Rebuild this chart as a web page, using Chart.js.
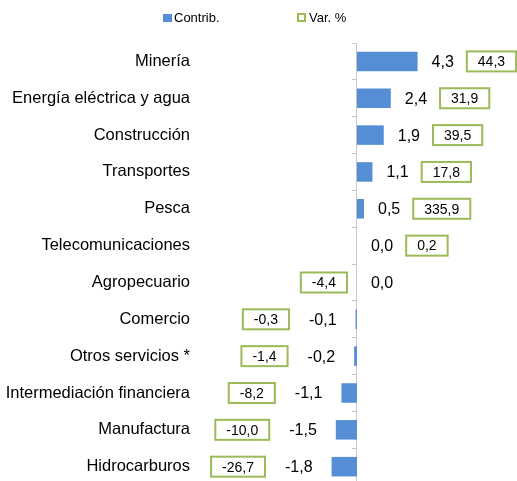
<!DOCTYPE html>
<html>
<head>
<meta charset="utf-8">
<script src="https://cdn.jsdelivr.net/npm/chart.js@4.4.0/dist/chart.umd.min.js"></script>
<style>
  body { margin: 0; background: #fff; overflow: hidden; font-family: "Liberation Sans", Arial, sans-serif; }
  #wrap { position: relative; width: 517px; height: 505px; }
  .legend { position: absolute; top: 10px; font-size: 13px; color: #000; line-height: 14px; }
  .legend span { display: inline-block; vertical-align: middle; }
  .sw-contrib { width: 9px; height: 8px; background: #558ED5; margin-right: 2px; }
  .sw-var { width: 5px; height: 5px; border: 2px solid #9BBB59; margin-right: 3px; }
</style>
</head>
<body>
<div id="wrap">
  <div class="legend" style="left:163px"><span class="sw-contrib"></span><span>Contrib.</span></div>
  <div class="legend" style="left:297px"><span class="sw-var"></span><span>Var. %</span></div>
  <canvas id="chart" width="517" height="505"></canvas>
</div>
<script>
// Data
const categories = [
    "Minería",
    "Energía eléctrica y agua",
    "Construcción",
    "Transportes",
    "Pesca",
    "Telecomunicaciones",
    "Agropecuario",
    "Comercio",
    "Otros servicios *",
    "Intermediación financiera",
    "Manufactura",
    "Hidrocarburos",
];
const contrib = [4.3, 2.4, 1.9, 1.1, 0.5, 0.0, 0.0, -0.1, -0.2, -1.1, -1.5, -1.8];
const varPct = [44.3, 31.9, 39.5, 17.8, 335.9, 0.2, -4.4, -0.3, -1.4, -8.2, -10.0, -26.7];

const FONT = '"Liberation Sans", Arial, sans-serif';
Chart.defaults.font.family = FONT;

function fmt(v) {
    return v.toFixed(1).replace(".", ",");
}

// Draws the contribution value next to each bar and the boxed % change
const valueLabels = {
    id: "valueLabels",
    afterDatasetsDraw(chart) {
        const ctx = chart.ctx;
        const zero = chart.scales.x.getPixelForValue(0);
        chart.getDatasetMeta(0).data.forEach((bar, i) => {
            const v = contrib[i];
            const p = varPct[i];
            const y = bar.y;
            ctx.save();
            ctx.textBaseline = "middle";
            ctx.fillStyle = "#000";

            ctx.font = "16px " + FONT;
            const txt = fmt(v);
            const tw = ctx.measureText(txt).width;
            let tl;
            if (v >= 0) tl = bar.x + 14;
            else tl = bar.x - 19 - tw;
            ctx.textAlign = "left";
            ctx.fillText(txt, tl, y + 1);

            ctx.font = "14px " + FONT;
            const ptxt = fmt(p);
            const bw = ctx.measureText(ptxt).width + 22;
            let bl;
            if (p >= 0) bl = v >= 0 ? tl + tw + 13 : zero + 10;
            else bl = v < 0 ? tl - 20 - bw : zero - 10 - bw;
            ctx.fillStyle = "#fff";
            ctx.fillRect(bl, y - 10, bw, 20);
            ctx.strokeStyle = "#9BBB59";
            ctx.lineWidth = 2;
            ctx.strokeRect(bl, y - 10, bw, 20);
            ctx.fillStyle = "#000";
            ctx.textAlign = "center";
            ctx.fillText(ptxt, bl + bw / 2, y + 1);
            ctx.restore();
        });
    },
};

new Chart(document.getElementById("chart"), {
    type: "bar",
    data: {
        labels: categories,
        datasets: [
            {
                label: "Contrib.",
                data: contrib,
                backgroundColor: "#558ED5",
                barPercentage: 0.53,
                categoryPercentage: 1,
            },
        ],
    },
    options: {
        indexAxis: "y",
        responsive: false,
        animation: false,
        layout: { padding: { top: 43, right: 0, bottom: 0, left: 0 } },
        plugins: {
            legend: { display: false },
            tooltip: { enabled: false },
        },
        scales: {
            x: {
                display: false,
                min: -11.13,
                max: 11.35,
            },
            y: {
                position: "left",
                afterFit(scale) {
                    scale.width = 200;
                },
                grid: { display: false, drawTicks: false, tickLength: 0 },
                border: { display: false },
                ticks: { padding: 10, color: "#000", font: { size: 16.5 } },
            },
            y2: {
                type: "category",
                axis: "y",
                position: { x: 0 },
                offset: true,
                ticks: { display: false },
                grid: {
                    drawOnChartArea: false,
                    drawTicks: true,
                    tickLength: 4,
                    offset: true,
                    color: "#c8c8c8",
                },
                border: { display: true, color: "#c8c8c8", width: 1 },
            },
        },
    },
    plugins: [valueLabels],
});
</script>
</body>
</html>
